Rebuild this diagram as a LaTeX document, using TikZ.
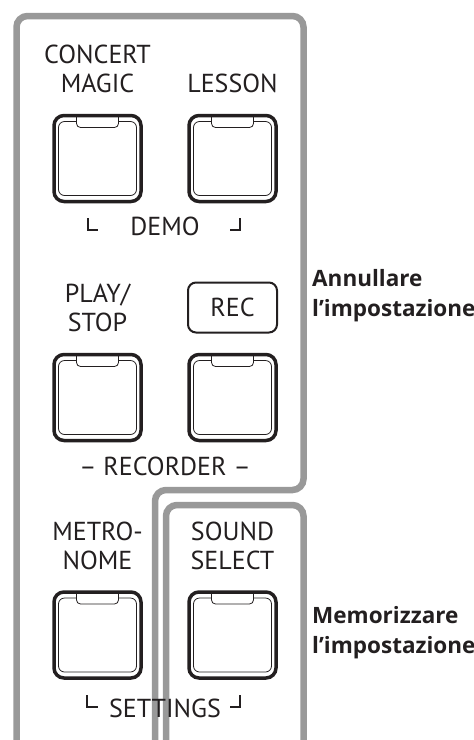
\documentclass[tikz,border=0pt]{standalone}
\usepackage{fontspec}
\setmainfont{PT Sans}
\newfontfamily\hintfont{Open Sans}
\usetikzlibrary{positioning}
\definecolor{framegray}{HTML}{999999}
\definecolor{ink}{HTML}{231F20}

\begin{document}
\begin{tikzpicture}[x=1pt,y=-1pt,
  pkey/.style={draw=ink,line width=3.5pt,rounded corners=10pt,minimum width=87pt,minimum height=86pt,outer sep=0pt},
  keyline/.style={draw=ink,line width=0.8pt,rounded corners=6pt},
  notch/.style={draw=ink,line width=0.8pt,rounded corners=4pt},
  keylabel/.style={align=center,inner sep=0pt,font=\fontsize{26}{29}\selectfont,text=ink},
  recbox/.style={draw=ink,line width=2pt,rounded corners=8pt,minimum width=89pt,minimum height=50pt},
  panel/.style={draw=framegray,line width=6.5pt,rounded corners=11pt},
  hint/.style={align=left,inner sep=0pt,font=\hintfont\fontsize{22.5}{30}\selectfont\bfseries,text=ink,anchor=north west},
  bracket/.style={draw=ink,line width=1.2pt}]
\useasboundingbox (0,0) rectangle (474,740);

% the two grey groups
\begin{scope}
\clip (0,0) rectangle (474,740);
\draw[panel] (16.5,16) -- (303.5,16) -- (303.5,490) -- (155,490) -- (155,752) -- (16.5,752) -- cycle;
\draw[panel] (166,505) rectangle (303.5,752);
\end{scope}

% keys
\node[pkey] (concert) at (97.5,158.5) {};
\node[pkey,right=48pt of concert] (lesson) {};
\node[pkey] (play) at (97.5,397.5) {};
\node[pkey,right=48pt of play] (rec) {};
\node[pkey] (metro) at (97.5,635) {};
\node[pkey,right=48pt of metro] (sound) {};
\foreach \k in {concert,lesson,play,rec,metro,sound} {
  \draw[keyline] ([shift={(-21,6)}]\k.north) -- ([shift={(4.5,6)}]\k.north west)
    -- ([shift={(4.5,-6)}]\k.south west) -- ([shift={(-4.5,-6)}]\k.south east)
    -- ([shift={(-4.5,6)}]\k.north east) -- ([shift={(21,6)}]\k.north);
  \draw[notch] ([xshift=-21pt]\k.north) -- ++(0,12) -- ++(42,0) -- ++(0,-12);
}

% key names
\node[keylabel,above=22pt of concert] (concertlbl) {CONCERT\\MAGIC};
\node[keylabel,above=22pt of lesson] (lessonlbl) {LESSON};
\node[keylabel,above=22pt of play] (playlbl) {PLAY/\\STOP};
\node[keylabel,recbox,above=21pt of rec] (reclbl) {REC};
\node[keylabel,above=22pt of metro] (metrolbl) {METRO-\\NOME};
\node[keylabel,above=22pt of sound] (soundlbl) {SOUND\\SELECT};

% group names
\node[keylabel,anchor=base] (demo) at (165,235) {DEMO};
\draw[bracket] ([shift={(-77,-17)}]demo.base) -- ++(0,12) -- ++(10,0);
\draw[bracket] ([shift={(65,-5)}]demo.base) -- ++(10,0) -- ++(0,-12);
\node[keylabel,anchor=base] (recorder) at (165,475) {\textendash\ RECORDER \textendash};
\node[keylabel,anchor=base] (settings) at (165,717) {SETTINGS};
\draw[bracket] ([shift={(-78,-22)}]settings.base) -- ++(0,12) -- ++(11,0);
\draw[bracket] ([shift={(65,-10)}]settings.base) -- ++(10,0) -- ++(0,-12);

% what the groups do
\node[hint] (cancel) at (312,269) {Annullare\\l’impostazione};
\node[hint] (store) at (312,606) {Memorizzare\\l’impostazione};
\end{tikzpicture}
\end{document}
